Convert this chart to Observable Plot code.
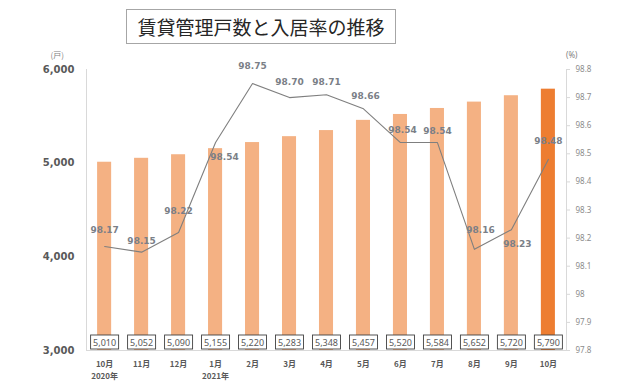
<!DOCTYPE html>
<html>
<head>
<meta charset="utf-8">
<script src="https://cdn.jsdelivr.net/npm/d3@7"></script>
<script src="https://cdn.jsdelivr.net/npm/@observablehq/plot@0.6"></script>
<style>
  html, body { margin: 0; padding: 0; background: #ffffff; }
  #wrap { position: relative; width: 640px; height: 383px; overflow: hidden; }
  #wrap svg { position: absolute; left: 0; top: 0; }
  #title {
    position: absolute; left: 126px; top: 9px; width: 268px; height: 33px;
    border: 1px solid #a6a6a6; box-sizing: content-box;
    font-family: "Noto Sans CJK JP", sans-serif; font-size: 19px; line-height: 33px;
    text-align: center; color: #262626; z-index: 2;
  }
</style>
</head>
<body>
<div id="wrap"><div id="title">賃貸管理戸数と入居率の推移</div></div>
<script>
// ---- data ----
const periods = ["2020-10","2020-11","2020-12","2021-01","2021-02","2021-03","2021-04","2021-05","2021-06","2021-07","2021-08","2021-09","2021-10"];
const monthLabels = ["10月","11月","12月","1月","2月","3月","4月","5月","6月","7月","8月","9月","10月"];
const yearLabels = ["2020年","","","2021年","","","","","","","","",""];
const units = [5010, 5052, 5090, 5155, 5220, 5283, 5348, 5457, 5520, 5584, 5652, 5720, 5790];
const occupancy = [98.17, 98.15, 98.22, 98.54, 98.75, 98.70, 98.71, 98.66, 98.54, 98.54, 98.16, 98.23, 98.48];
const unitTicks = [3000, 4000, 5000, 6000];
const rateTicks = [97.8, 97.9, 98, 98.1, 98.2, 98.3, 98.4, 98.5, 98.6, 98.7, 98.8];

// label offsets (layout only)
const labelDx = [0, 0, 0, 9, 0, 0, 0, 2, 2, 0, 6, 6, 0];
const labelDy = [-16, -11, -21, 15, -17, -15, -13, -13, -12, -11, -19, 14, -18];

const rows = periods.map((p, i) => ({period: p, units: units[i], rate: occupancy[i], idx: i}));
const last = periods.length - 1;

const common = {
  width: 640, height: 383,
  marginTop: 69, marginBottom: 33, marginLeft: 86, marginRight: 74
};
const xScale = {type: "band", domain: periods, paddingInner: 0.62, paddingOuter: 0.3, round: false};

const barPlot = Plot.plot({
  ...common,
  x: {...xScale},
  y: {domain: [3000, 6000]},
  style: {background: "transparent", fontFamily: "DejaVu Sans, sans-serif", color: "#595959"},
  marks: [
    Plot.frame({anchor: "left", stroke: "#d9d9d9"}),
    Plot.ruleY([unitTicks[0]], {stroke: "#d9d9d9"}),
    Plot.barY(rows, {x: "period", y: "units", clip: true,
      fill: d => d.idx === last ? "#ED7D31" : "#F4B183"}),
    Plot.axisY({ticks: unitTicks, tickFormat: d3.format(","), tickSize: 0, tickPadding: 12,
      fontSize: 10, fontWeight: "bold", label: null}),
    Plot.axisX({tickSize: 0, tickPadding: 9, fontSize: 8, fontWeight: "bold", lineHeight: 1.4,
      fontFamily: "Noto Sans CJK JP, sans-serif", label: null,
      tickFormat: d => { const i = periods.indexOf(d); return monthLabels[i] + (yearLabels[i] ? "\n" + yearLabels[i] : ""); }}),
    Plot.text(["(戸)"], {frameAnchor: "top-left", dx: -36, dy: -17, fontSize: 8,
      fontFamily: "Noto Sans CJK JP, sans-serif", fill: "#7f7f7f"}),
    Plot.text(rows, {x: "period", frameAnchor: "bottom", dy: -5, text: d => d3.format(",")(d.units),
      fontSize: 9, fontFamily: "Noto Sans, sans-serif", fill: "#595959"})
  ]
});

const lineMarks = [
  Plot.frame({anchor: "right", stroke: "#d9d9d9"}),
  Plot.axisY({anchor: "right", ticks: rateTicks, tickFormat: d => String(d), tickSize: 3, tickPadding: 6,
    fontSize: 8, fontFamily: "Noto Sans, sans-serif", stroke: "#d9d9d9", fill: "#8c8c8c", label: null}),
  Plot.line(rows, {x: "period", y: "rate", stroke: "#7f7f7f", strokeWidth: 1.1}),
  Plot.text(["(%)"], {frameAnchor: "top-right", dx: 11, dy: -17, fontSize: 8,
    fontFamily: "Noto Sans, sans-serif", fill: "#7f7f7f"})
];
rows.forEach((r, i) => {
  lineMarks.push(Plot.text([r], {x: "period", y: "rate", text: d => d.rate.toFixed(2),
    dx: labelDx[i], dy: labelDy[i], fontSize: 9, fontWeight: "bold",
    fontFamily: "DejaVu Sans, sans-serif", fill: "#7b7f87"}));
});

const linePlot = Plot.plot({
  ...common,
  x: {...xScale, axis: null},
  y: {domain: [97.8, 98.8]},
  style: {background: "transparent", fontFamily: "DejaVu Sans, sans-serif", color: "#8c8c8c"},
  marks: lineMarks
});

const wrap = document.getElementById("wrap");
wrap.appendChild(barPlot);
wrap.appendChild(linePlot);

// draw white boxes behind the bottom value labels
d3.select(barPlot).selectAll('g[font-size="9"] text').each(function() {
  const bb = this.getBBox();
  const t = this.getAttribute("transform");
  const rect = document.createElementNS("http://www.w3.org/2000/svg", "rect");
  rect.setAttribute("x", bb.x - 2.5);
  rect.setAttribute("y", bb.y - 0.5);
  rect.setAttribute("width", bb.width + 5);
  rect.setAttribute("height", bb.height + 1);
  rect.setAttribute("fill", "#ffffff");
  rect.setAttribute("stroke", "#404040");
  rect.setAttribute("stroke-width", "0.9");
  if (t) rect.setAttribute("transform", t);
  this.parentNode.insertBefore(rect, this);
});
</script>
</body>
</html>
